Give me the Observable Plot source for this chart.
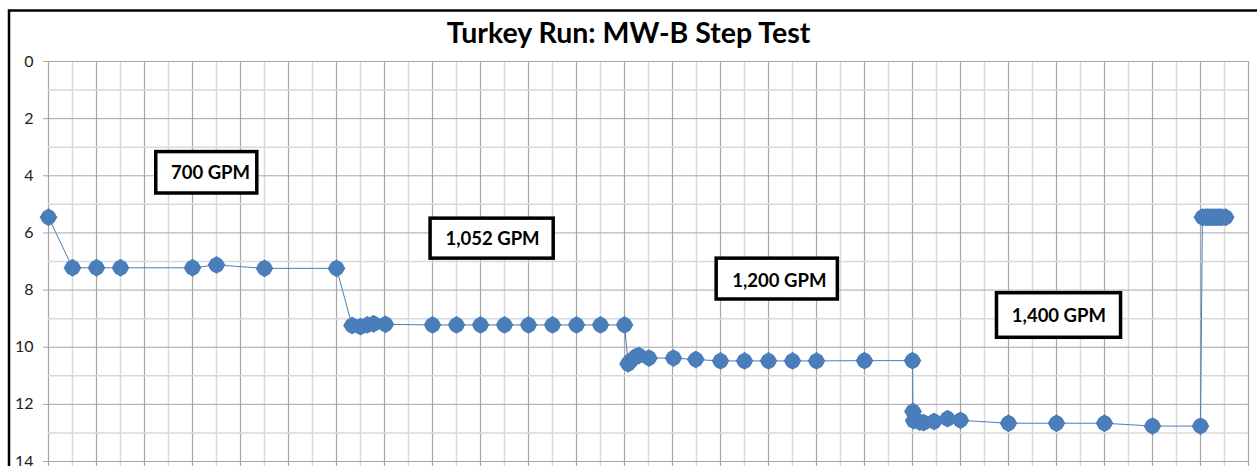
<!DOCTYPE html>
<html>
<head>
<meta charset="utf-8">
<script src="https://cdn.jsdelivr.net/npm/d3@7"></script>
<script src="https://cdn.jsdelivr.net/npm/@observablehq/plot@0.6"></script>
<style>
  html, body { margin: 0; padding: 0; background: #fff; }
  #chart { width: 1257px; height: 466px; overflow: hidden; }
</style>
</head>
<body>
<div id="chart"></div>
<script>
// ---- data (elapsed time units, depth to water in ft) ----
const title = "Turkey Run: MW-B Step Test";

const time = [
  0, 1, 2, 3, 6, 7, 9, 12,
  12.65, 13.0, 13.28, 13.55, 14.04,
  16, 17, 18, 19, 20, 21, 22, 23, 24,
  24.15, 24.26, 24.47, 24.6, 25.02, 26.04, 26.97, 28, 29, 30, 31, 32, 34, 36,
  36.02, 36.05, 36.3, 36.46, 36.9, 37.46, 38.0, 40, 42, 44, 46, 48,
  48.08, 48.2, 48.3, 48.4, 48.5, 48.6, 48.7, 48.8, 48.9, 49.05
];
const depth = [
  5.45, 7.22, 7.22, 7.22, 7.22, 7.12, 7.24, 7.24,
  9.24, 9.28, 9.22, 9.18, 9.2,
  9.22, 9.22, 9.22, 9.22, 9.22, 9.22, 9.22, 9.22, 9.22,
  10.58, 10.47, 10.33, 10.29, 10.38, 10.38, 10.43, 10.48, 10.48, 10.48, 10.48, 10.48, 10.47, 10.47,
  12.25, 12.57, 12.62, 12.64, 12.6, 12.5, 12.56, 12.66, 12.66, 12.66, 12.76, 12.76,
  5.45, 5.45, 5.45, 5.45, 5.45, 5.45, 5.45, 5.45, 5.45, 5.45
];

const yTicks = [0, 2, 4, 6, 8, 10, 12, 14];

// annotation labels (rate of each pumping step) and their box anchors
const stepLabels = ["700 GPM", "1,052 GPM", "1,200 GPM", "1,400 GPM"];
const boxX1 = [4.49, 15.92, 27.84, 39.52];
const boxX2 = [8.70, 21.05, 32.89, 44.69];
const boxY1 = [3.17, 5.50, 6.90, 8.11];
const boxY2 = [4.62, 6.90, 8.33, 9.67];
const textX = [6.75, 18.5, 30.45, 42.1];
const textY = [3.9, 6.2, 7.67, 8.9];

// ---- build tables ----
const series = time.map((t, i) => ({t, d: depth[i]}));
const boxes = stepLabels.map((label, i) => ({
  label, x1: boxX1[i], x2: boxX2[i], y1: boxY1[i], y2: boxY2[i], tx: textX[i], ty: textY[i]
}));
const minorX = d3.range(0, 51, 1);
const majorX = d3.range(0, 51, 2);
const minorY = d3.range(1, 15, 2);

const blue = "#4a7ebb";
const font = "Lato, 'Open Sans', sans-serif";

const plot = Plot.plot({
  width: 1257,
  height: 466,
  marginLeft: 48,
  marginRight: 9,
  marginTop: 61,
  marginBottom: 0,
  style: {fontFamily: font, background: "#fff", overflow: "visible"},
  x: {domain: [0, 50], axis: null},
  y: {domain: [0, 14.175], reverse: true, axis: null},
  marks: [
    Plot.ruleX(minorX, {stroke: "#d9d9d9", strokeWidth: 1.5}),
    Plot.ruleX(majorX, {stroke: "#a6a6a6", strokeWidth: 1}),
    Plot.ruleY(minorY, {stroke: "#d9d9d9", strokeWidth: 1.5}),
    Plot.ruleY(yTicks, {stroke: "#a6a6a6", strokeWidth: 1}),
    Plot.ruleX([50], {stroke: "#a6a6a6", strokeWidth: 1}),
    Plot.axisY({
      ticks: yTicks, tickSize: 5, tickPadding: 10, stroke: "#a6a6a6",
      fontSize: 16, color: "#222", label: null, tickFormat: d => String(d)
    }),
    Plot.line(series, {x: "t", y: "d", stroke: blue, strokeWidth: 1}),
    // rounded-diamond markers: a diamond with a circle laid over it
    Plot.dot(series, {
      x: "t", y: "d", symbol: "diamond2", r: 6.8,
      fill: blue, stroke: blue, strokeWidth: 2.5, strokeLinejoin: "round"
    }),
    Plot.dot(series, {x: "t", y: "d", symbol: "circle", r: 7.8, fill: blue, stroke: "none"}),
    Plot.rect(boxes, {x1: "x1", x2: "x2", y1: "y1", y2: "y2", fill: "#fff", stroke: "#000", strokeWidth: 3.5}),
    Plot.text(boxes, {x: "tx", y: "ty", text: "label", fontSize: 18.5, fontWeight: "bold", fill: "#000"}),
    Plot.text([title], {
      frameAnchor: "top", dy: -39, dx: -20, fontSize: 28.5, fontWeight: "bold", fill: "#000"
    })
  ]
});

// outer chart-area frame (left and top edges, as in the source)
const svg = d3.select(plot);
svg.append("path")
  .attr("d", "M9,466V10.5H1257")
  .attr("fill", "none")
  .attr("stroke", "#000")
  .attr("stroke-width", 2.5);

document.getElementById("chart").append(plot);
</script>
</body>
</html>
